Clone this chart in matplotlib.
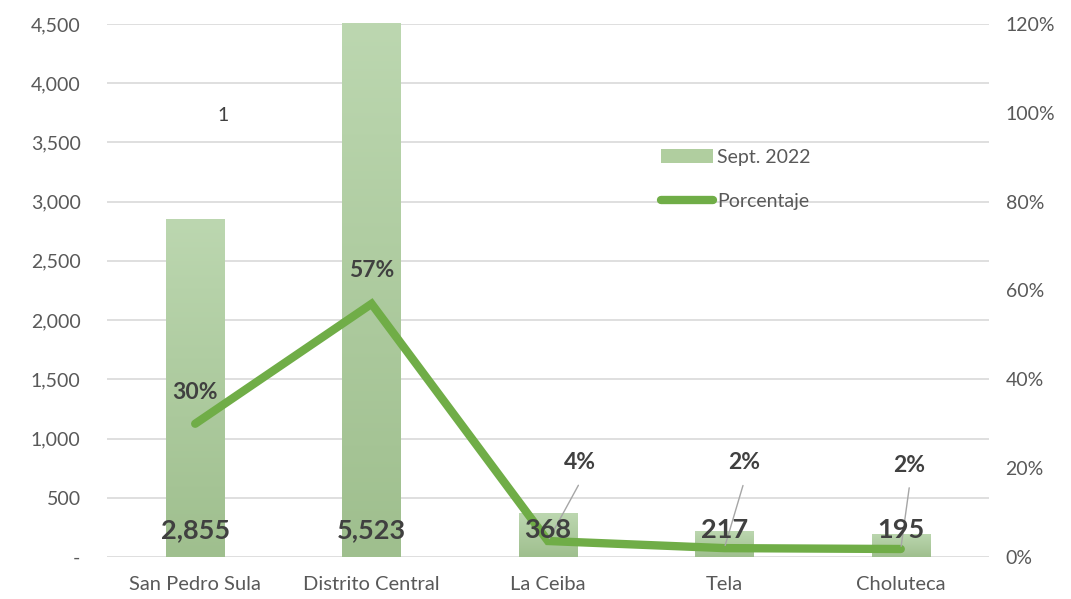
import numpy as np
import matplotlib.pyplot as plt
from matplotlib.ticker import FuncFormatter, MultipleLocator
from matplotlib.colors import LinearSegmentedColormap
from matplotlib.patches import Patch
from matplotlib.lines import Line2D

plt.rcParams['font.family'] = ['Lato', 'DejaVu Sans']

# data
ciudades = ["San Pedro Sula", "Distrito Central", "La Ceiba", "Tela", "Choluteca"]
sept_2022 = [2855, 5523, 368, 217, 195]
porcentaje = [0.30, 0.57, 0.036, 0.02, 0.018]
pct_labels = ["30%", "57%", "4%", "2%", "2%"]

gray_txt = "#595959"
dark_txt = "#404040"
line_col = "#70ad47"

fig = plt.figure(figsize=(10.71, 5.99), dpi=100)
ax = fig.add_axes([0.0999, 0.0701, 0.8235, 0.8899])
ax2 = ax.twinx()

x = np.arange(len(ciudades))
ymax = 4500

# bars with vertical gradient
cmap = LinearSegmentedColormap.from_list("g", ["#9fbf8e", "#bcd7b0"])
bars = ax.bar(x, sept_2022, width=0.33, color="#b0ce9f", zorder=2)
grad = np.linspace(0, 1, 256).reshape(-1, 1)
for b in bars:
    h = min(b.get_height(), ymax)
    im = ax.imshow(grad, cmap=cmap, origin="lower", aspect="auto",
                   extent=[b.get_x(), b.get_x() + b.get_width(), 0, h], zorder=2)
    im.set_clip_path(b)

ax.set_xlim(-0.5, len(ciudades) - 0.5)
ax.set_ylim(0, ymax)
ax.yaxis.set_major_locator(MultipleLocator(500))
ax.yaxis.set_major_formatter(FuncFormatter(lambda v, p: "-" if v == 0 else f"{v:,.0f}"))
ax.grid(axis="y", color="#d9d9d9", linewidth=1.2, zorder=0)
ax.set_axisbelow(True)
ax.set_xticks(x)
ax.set_xticklabels(ciudades)
for s in ax.spines.values():
    s.set_visible(False)
for s in ax2.spines.values():
    s.set_visible(False)
ax.tick_params(axis="y", length=0, labelsize=14, colors=gray_txt, pad=19)
ax.tick_params(axis="x", length=0, labelsize=14.5, colors=gray_txt, pad=14)

# line on secondary axis
ax2.plot(x, porcentaje, color=line_col, linewidth=6, solid_capstyle="round",
         solid_joinstyle="miter", zorder=3)
ax2.set_ylim(0, 1.2)
ax2.yaxis.set_major_locator(MultipleLocator(0.2))
ax2.yaxis.set_major_formatter(FuncFormatter(lambda v, p: f"{v*100:.0f}%"))
ax2.tick_params(axis="y", length=0, labelsize=14, colors=gray_txt, pad=12)

# bar value labels
for xi, v in zip(x, sept_2022):
    ax2.text(xi, 0.06, f"{v:,}", ha="center", va="center", fontsize=19.5,
             fontweight="bold", color=dark_txt, zorder=5)

# percentage labels
pct_pos = [(0.0, 0.371), (1.0, 0.646), (2.18, 0.212), (3.11, 0.212), (4.05, 0.207)]
for i, (lbl, (px, py)) in enumerate(zip(pct_labels, pct_pos)):
    ax2.text(px, py, lbl, ha="center", va="center", fontsize=16.5,
             fontweight="bold", color=dark_txt, zorder=5)
    if i >= 2:
        ax2.annotate("", xy=(x[i], porcentaje[i]), xytext=(px, py - 0.045),
                     arrowprops=dict(arrowstyle="-", color="#a6a6a6", lw=1), zorder=4)

# stray label
ax.text(0.16, 3730, "1", ha="center", va="center", fontsize=14, color=dark_txt)

# legend
handles = [Patch(facecolor="#b0ce9f", edgecolor="none"),
           Line2D([0], [0], color=line_col, linewidth=6, solid_capstyle="round")]
leg = ax2.legend(handles, ["Sept. 2022", "Porcentaje"], loc="upper left",
                 bbox_to_anchor=(643 / 1071, 1 - 131 / 599), bbox_transform=fig.transFigure,
                 frameon=False, fontsize=14, labelspacing=1.4, handlelength=2.7,
                 handletextpad=0.2, labelcolor=gray_txt)

fig.savefig("out.png", dpi=100)
